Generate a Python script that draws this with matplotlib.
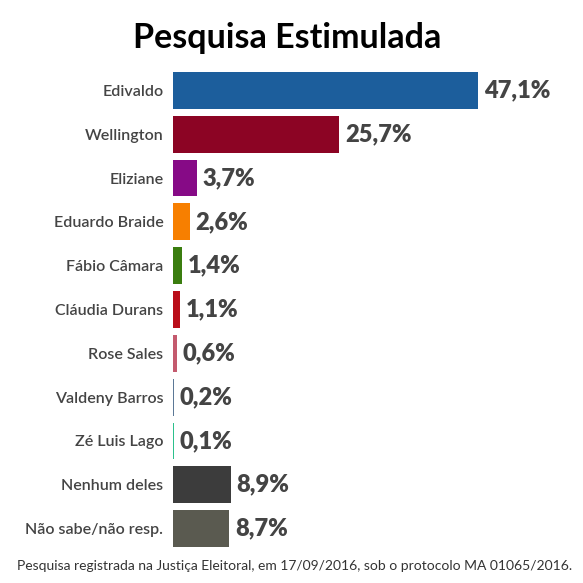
import matplotlib
matplotlib.use("Agg")
import matplotlib.pyplot as plt

# Poll data
candidates = ["Edivaldo", "Wellington", "Eliziane", "Eduardo Braide", "Fábio Câmara",
              "Cláudia Durans", "Rose Sales", "Valdeny Barros", "Zé Luis Lago",
              "Nenhum deles", "Não sabe/não resp."]
values = [47.1, 25.7, 3.7, 2.6, 1.4, 1.1, 0.6, 0.2, 0.1, 8.9, 8.7]
colors = ["#1c5e9c", "#8c0424", "#860a86", "#f77f00", "#3a7d0f", "#ba0e1a",
          "#c45a6e", "#5b7896", "#2cc08c", "#3c3c3c", "#5a5a50"]

plt.rcParams['font.family'] = ['Lato', 'DejaVu Sans']

fig = plt.figure(figsize=(5.83, 5.83), dpi=100)
ax = fig.add_axes([173 / 583, 0.0557, 410 / 583, 0.8268])

y = list(range(len(values)))
ax.barh(y, values, height=0.84, color=colors)
ax.set_xlim(0, 47.1 * 410 / 305)
ax.set_ylim(len(values) - 0.5, -0.5)

for i, v in enumerate(values):
    ax.annotate(f"{v:.1f}%".replace(".", ","), (v, i), xytext=(4, 0),
                textcoords="offset points", va="center", ha="left",
                fontsize=17, fontweight="heavy", color="#444444")

ax.set_yticks(y)
ax.set_yticklabels(candidates, fontsize=11.5, fontweight="semibold", color="#444444")
ax.tick_params(axis="y", length=0, pad=7)
ax.set_xticks([])
for s in ax.spines.values():
    s.set_visible(False)

fig.text(0.492, 0.935, "Pesquisa Estimulada", ha="center", va="center",
         fontsize=24.5, fontweight="bold", color="black")
fig.text(0.506, 0.03, "Pesquisa registrada na Justiça Eleitoral, em 17/09/2016, sob o protocolo MA 01065/2016.",
         ha="center", va="center", fontsize=10, color="#333333")

fig.savefig("out.png", dpi=100)
